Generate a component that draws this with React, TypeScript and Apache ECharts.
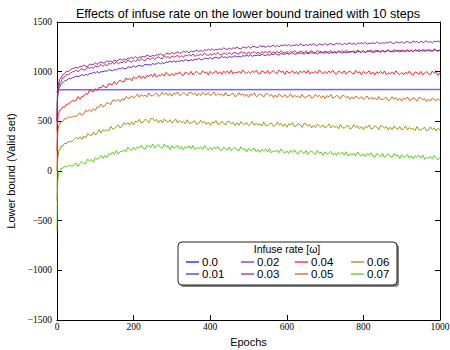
import React, { useEffect, useRef } from "react";
import * as echarts from "echarts";

const epochs = [0, 1, 2, 3, 5, 7, 10, 15, 20, 25, 30, 35, 40, 45,
  50, 55, 60, 65, 70, 75, 80, 85, 90, 95,
  100, 105, 110, 115, 120, 125, 130, 135, 140, 145,
  150, 155, 160, 165, 170, 175, 180, 185, 190, 195,
  200, 205, 210, 215, 220, 225, 230, 235, 240, 245,
  250, 255, 260, 265, 270, 275, 280, 285, 290, 295,
  300, 305, 310, 315, 320, 325, 330, 335, 340, 345,
  350, 355, 360, 365, 370, 375, 380, 385, 390, 395,
  400, 405, 410, 415, 420, 425, 430, 435, 440, 445,
  450, 455, 460, 465, 470, 475, 480, 485, 490, 495,
  500, 505, 510, 515, 520, 525, 530, 535, 540, 545,
  550, 555, 560, 565, 570, 575, 580, 585, 590, 595,
  600, 605, 610, 615, 620, 625, 630, 635, 640, 645,
  650, 655, 660, 665, 670, 675, 680, 685, 690, 695,
  700, 705, 710, 715, 720, 725, 730, 735, 740, 745,
  750, 755, 760, 765, 770, 775, 780, 785, 790, 795,
  800, 805, 810, 815, 820, 825, 830, 835, 840, 845,
  850, 855, 860, 865, 870, 875, 880, 885, 890, 895,
  900, 905, 910, 915, 920, 925, 930, 935, 940, 945,
  950, 955, 960, 965, 970, 975, 980, 985, 990, 995,
  1000];

const flatEpochs = [0, 2, 1000];
const rate00 = [790, 818, 820];

const rate01 = [500, 700, 765, 788, 835, 848, 874, 888, 908, 913, 928, 930, 938, 945,
  956, 950, 958, 970, 959, 973, 965, 983, 980, 993,
  985, 1002, 988, 1000, 999, 1009, 1002, 1021, 1013, 1010,
  1023, 1016, 1031, 1027, 1041, 1031, 1029, 1047, 1045, 1042,
  1058, 1045, 1057, 1065, 1057, 1057, 1075, 1067, 1074, 1063,
  1081, 1074, 1080, 1091, 1078, 1091, 1081, 1098, 1093, 1105,
  1095, 1111, 1096, 1106, 1104, 1113, 1105, 1123, 1113, 1109,
  1121, 1113, 1126, 1121, 1134, 1122, 1119, 1136, 1133, 1128,
  1143, 1128, 1140, 1146, 1137, 1136, 1153, 1143, 1149, 1137,
  1154, 1145, 1150, 1160, 1146, 1157, 1146, 1161, 1156, 1166,
  1155, 1170, 1154, 1164, 1161, 1169, 1160, 1177, 1167, 1162,
  1173, 1164, 1177, 1171, 1183, 1171, 1167, 1183, 1179, 1174,
  1188, 1173, 1183, 1189, 1179, 1177, 1193, 1183, 1188, 1175,
  1191, 1182, 1186, 1195, 1180, 1191, 1179, 1194, 1187, 1197,
  1185, 1200, 1183, 1193, 1189, 1197, 1187, 1204, 1193, 1188,
  1198, 1189, 1201, 1195, 1206, 1194, 1189, 1205, 1200, 1195,
  1208, 1192, 1203, 1208, 1199, 1196, 1212, 1202, 1207, 1194,
  1210, 1200, 1205, 1213, 1199, 1209, 1197, 1212, 1205, 1215,
  1203, 1217, 1201, 1210, 1207, 1214, 1204, 1221, 1210, 1205,
  1215, 1205, 1218, 1211, 1222, 1210, 1205, 1220, 1216, 1210,
  1216];

const rate02 = [500, 760, 815, 865, 895, 925, 935, 970, 980, 1005, 1000, 1020, 1030, 1036,
  1044, 1036, 1054, 1050, 1067, 1055, 1053, 1075, 1073, 1070,
  1090, 1073, 1088, 1097, 1088, 1088, 1110, 1100, 1109, 1095,
  1117, 1108, 1116, 1129, 1114, 1129, 1117, 1137, 1132, 1145,
  1134, 1153, 1134, 1148, 1145, 1156, 1146, 1168, 1157, 1152,
  1166, 1156, 1172, 1167, 1182, 1168, 1164, 1185, 1181, 1176,
  1195, 1177, 1190, 1198, 1188, 1187, 1207, 1196, 1204, 1189,
  1209, 1199, 1206, 1217, 1201, 1215, 1202, 1220, 1214, 1226,
  1214, 1232, 1212, 1225, 1221, 1231, 1220, 1241, 1229, 1223,
  1236, 1226, 1241, 1234, 1248, 1234, 1229, 1248, 1243, 1238,
  1255, 1236, 1249, 1256, 1245, 1243, 1263, 1251, 1258, 1242,
  1262, 1251, 1257, 1268, 1251, 1264, 1250, 1268, 1261, 1272,
  1259, 1276, 1256, 1267, 1263, 1272, 1261, 1280, 1268, 1261,
  1274, 1262, 1277, 1269, 1283, 1267, 1262, 1280, 1275, 1268,
  1285, 1265, 1278, 1284, 1273, 1270, 1290, 1277, 1284, 1267,
  1287, 1275, 1281, 1291, 1274, 1286, 1272, 1289, 1282, 1292,
  1279, 1296, 1276, 1287, 1283, 1292, 1281, 1300, 1288, 1281,
  1294, 1282, 1297, 1289, 1303, 1287, 1282, 1300, 1295, 1288,
  1305, 1285, 1298, 1304, 1293, 1290, 1310, 1297, 1304, 1287,
  1306, 1294, 1300, 1310, 1292, 1305, 1290, 1307, 1300, 1310,
  1298];

const rate03 = [400, 700, 775, 828, 855, 888, 895, 938, 945, 972, 968, 985, 998, 1000,
  1017, 998, 1017, 1030, 1018, 1019, 1047, 1035, 1047, 1031,
  1059, 1048, 1057, 1073, 1053, 1073, 1057, 1083, 1075, 1093,
  1077, 1102, 1078, 1095, 1090, 1104, 1091, 1118, 1103, 1097,
  1115, 1101, 1122, 1114, 1133, 1115, 1109, 1134, 1130, 1122,
  1144, 1122, 1139, 1148, 1134, 1132, 1158, 1143, 1152, 1133,
  1159, 1145, 1153, 1166, 1145, 1162, 1144, 1168, 1158, 1174,
  1156, 1179, 1154, 1169, 1163, 1176, 1162, 1187, 1171, 1163,
  1180, 1165, 1185, 1174, 1192, 1173, 1166, 1190, 1183, 1174,
  1195, 1172, 1187, 1196, 1181, 1177, 1202, 1186, 1195, 1174,
  1199, 1184, 1191, 1203, 1181, 1197, 1179, 1201, 1191, 1205,
  1187, 1209, 1184, 1198, 1191, 1203, 1188, 1212, 1196, 1187,
  1203, 1187, 1206, 1195, 1213, 1193, 1185, 1208, 1201, 1191,
  1211, 1187, 1202, 1210, 1194, 1191, 1215, 1198, 1206, 1185,
  1209, 1194, 1201, 1213, 1190, 1207, 1188, 1210, 1199, 1213,
  1194, 1217, 1191, 1205, 1199, 1210, 1195, 1219, 1203, 1194,
  1210, 1194, 1214, 1203, 1220, 1201, 1193, 1216, 1209, 1200,
  1220, 1196, 1211, 1220, 1204, 1200, 1224, 1208, 1216, 1195,
  1219, 1204, 1211, 1223, 1200, 1217, 1198, 1220, 1209, 1224,
  1205, 1227, 1201, 1216, 1209, 1220, 1205, 1230, 1213, 1204,
  1220];

const rate04 = [200, 450, 515, 560, 585, 612, 615, 645, 642, 672, 675, 690, 708, 705,
  709, 750, 722, 752, 753, 781, 772, 817, 803, 797,
  827, 812, 844, 836, 866, 844, 839, 879, 874, 868,
  903, 872, 899, 915, 898, 897, 937, 918, 934, 908,
  948, 929, 940, 961, 930, 955, 930, 964, 951, 973,
  949, 982, 945, 967, 959, 977, 956, 993, 970, 959,
  982, 961, 988, 974, 999, 971, 961, 995, 985, 973,
  1003, 968, 990, 1002, 980, 975, 1010, 987, 998, 968,
  1003, 981, 991, 1009, 977, 999, 972, 1004, 989, 1008,
  982, 1014, 976, 996, 987, 1004, 982, 1017, 993, 980,
  1002, 980, 1006, 991, 1015, 986, 975, 1008, 997, 984,
  1013, 977, 999, 1010, 988, 982, 1017, 993, 1004, 973,
  1008, 986, 995, 1013, 980, 1002, 975, 1006, 991, 1010,
  984, 1015, 977, 997, 988, 1004, 982, 1017, 993, 980,
  1002, 980, 1006, 990, 1014, 985, 974, 1006, 995, 982,
  1010, 974, 996, 1006, 984, 978, 1013, 988, 999, 968,
  1003, 981, 989, 1007, 974, 996, 968, 999, 984, 1003,
  976, 1007, 969, 989, 979, 995, 973, 1008, 984, 971,
  992, 970, 996, 981, 1005, 976, 965, 998, 987, 974,
  1003, 967, 989, 1000, 978, 972, 1007, 983, 994, 963,
  990];

const rate05 = [0, 300, 385, 415, 465, 470, 495, 500, 528, 525, 545, 540, 546, 552,
  549, 568, 585, 558, 576, 612, 596, 619, 600, 629,
  608, 646, 642, 673, 645, 658, 687, 683, 668, 711,
  715, 701, 721, 695, 727, 710, 748, 735, 731, 758,
  735, 750, 776, 743, 767, 753, 764, 746, 786, 757,
  759, 773, 784, 752, 763, 793, 769, 785, 759, 782,
  753, 784, 773, 797, 762, 768, 790, 779, 757, 793,
  790, 771, 786, 755, 782, 760, 793, 775, 766, 788,
  759, 772, 795, 760, 781, 765, 774, 753, 791, 760,
  759, 772, 782, 749, 759, 788, 763, 778, 751, 773,
  743, 774, 762, 786, 750, 756, 777, 766, 743, 779,
  775, 756, 770, 739, 765, 743, 775, 757, 747, 769,
  740, 753, 777, 741, 763, 747, 756, 735, 773, 742,
  742, 755, 765, 732, 743, 772, 747, 762, 736, 758,
  728, 758, 747, 770, 734, 740, 761, 749, 726, 761,
  757, 738, 752, 720, 747, 724, 756, 738, 728, 749,
  720, 733, 756, 721, 742, 726, 734, 714, 751, 720,
  719, 732, 742, 709, 719, 748, 723, 738, 711, 733,
  703, 734, 722, 746, 710, 716, 737, 726, 703, 739,
  735, 716, 730, 699, 725, 703, 735, 717, 707, 729,
  708];

const rate06 = [-300, 50, 140, 150, 210, 212, 248, 250, 280, 275, 298, 295, 300, 318,
  338, 321, 344, 316, 352, 332, 376, 362, 358, 389,
  362, 384, 417, 383, 414, 402, 418, 402, 450, 422,
  428, 447, 465, 433, 450, 487, 465, 487, 462, 493,
  465, 502, 492, 521, 483, 492, 520, 509, 486, 528,
  528, 504, 520, 485, 514, 487, 524, 503, 492, 516,
  482, 497, 524, 483, 507, 488, 498, 475, 516, 481,
  481, 494, 506, 469, 480, 511, 484, 500, 469, 494,
  460, 494, 482, 508, 468, 474, 500, 486, 461, 500,
  498, 474, 491, 456, 486, 459, 497, 476, 466, 490,
  457, 473, 499, 459, 483, 465, 474, 452, 493, 459,
  458, 472, 484, 447, 458, 490, 462, 479, 448, 474,
  440, 474, 461, 487, 446, 453, 478, 464, 438, 478,
  475, 451, 468, 433, 462, 436, 473, 452, 442, 466,
  432, 448, 474, 434, 458, 440, 449, 427, 468, 434,
  433, 447, 459, 422, 433, 465, 437, 454, 423, 449,
  415, 450, 437, 464, 423, 430, 455, 442, 416, 456,
  453, 430, 446, 412, 441, 415, 452, 432, 421, 446,
  412, 428, 454, 414, 438, 420, 429, 407, 448, 414,
  413, 427, 439, 402, 413, 445, 417, 434, 403, 429,
  410];

const rate07 = [-600, -250, -95, -65, -15, -5, 25, 28, 48, 40, 58, 50, 52, 62,
  80, 46, 77, 96, 76, 75, 121, 100, 118, 89,
  135, 116, 132, 158, 126, 158, 134, 174, 163, 192,
  168, 207, 170, 197, 192, 215, 195, 240, 218, 207,
  238, 214, 246, 231, 260, 230, 220, 259, 248, 236,
  270, 229, 253, 265, 238, 230, 269, 241, 252, 216,
  255, 230, 239, 259, 220, 246, 215, 249, 231, 254,
  223, 257, 214, 236, 225, 243, 217, 257, 229, 213,
  238, 211, 241, 223, 249, 216, 204, 240, 226, 211,
  242, 202, 226, 238, 211, 204, 243, 215, 226, 191,
  230, 204, 213, 232, 193, 218, 187, 220, 202, 224,
  193, 226, 183, 204, 193, 210, 184, 223, 195, 178,
  203, 176, 206, 188, 214, 181, 169, 205, 191, 176,
  207, 167, 191, 203, 176, 169, 208, 180, 191, 156,
  195, 169, 179, 198, 159, 184, 154, 187, 169, 191,
  160, 194, 151, 172, 161, 179, 153, 192, 164, 148,
  173, 146, 176, 158, 184, 151, 139, 175, 161, 146,
  177, 137, 161, 173, 146, 139, 178, 150, 161, 126,
  165, 139, 148, 167, 128, 153, 122, 155, 137, 159,
  128, 161, 118, 139, 128, 145, 119, 158, 130, 113,
  138];

const seriesNames = ["0.0", "0.01", "0.02", "0.03", "0.04", "0.05", "0.06", "0.07"];
const seriesColors = ["#0000ff", "#4b14c8", "#8c1496", "#c3144b", "#ff0a0a", "#cd5a0a", "#8c8c00", "#46c800"];
const seriesValues = [rate00, rate01, rate02, rate03, rate04, rate05, rate06, rate07];

const titleText = "Effects of infuse rate on the lower bound trained with 10 steps";
const legendTitle = "Infuse rate [ω]";

export default function App() {
  const ref = useRef<HTMLDivElement>(null);
  useEffect(() => {
    if (!ref.current) return;
    const chart = echarts.init(ref.current, null, { renderer: "svg" });
    const minus = (v: number) => String(v).replace("-", "\u2212");
    const tickFont = { fontFamily: "Liberation Serif", fontSize: 9.5, color: "#000" };
    const axisBase = {
      axisLine: { show: true, onZero: false, lineStyle: { color: "#000", width: 1 } },
      axisTick: { show: true, inside: true, length: 5, lineStyle: { color: "#000" } },
      splitLine: { show: false },
    };
    const series = seriesNames.map((name, i) => {
      const xs = i === 0 ? flatEpochs : epochs;
      return {
        name,
        type: "line",
        data: xs.map((e, j) => [e, seriesValues[i][j]]),
        showSymbol: false,
        symbol: "none",
        itemStyle: { color: seriesColors[i] },
        lineStyle: { color: i === 0 ? "#6a6aff" : seriesColors[i], width: i === 0 ? 1.5 : 0.9 },
        xAxisIndex: 0,
        yAxisIndex: 0,
      };
    });
    const legendCols = [0, 1, 2, 3].map((c) => ({
      orient: "vertical",
      left: [186, 241, 295, 351][c],
      top: 256,
      data: [seriesNames[c * 2], seriesNames[c * 2 + 1]],
      icon: "rect",
      itemWidth: 13,
      itemHeight: 1.2,
      itemGap: 0,
      padding: 0,
      selectedMode: false,
      textStyle: { fontFamily: "Liberation Sans", fontSize: 11.5, color: "#000", lineHeight: 11, padding: [0, 0, 0, -2] },
    }));
    chart.setOption({
      animation: false,
      backgroundColor: "#fff",
      grid: { left: 57, right: 10, top: 22, bottom: 30, containLabel: false, outerBoundsMode: "none" },
      xAxis: [
        {
          type: "value", min: 0, max: 1000, interval: 200, position: "bottom",
          name: "Epochs", nameLocation: "middle", nameGap: 16,
          nameTextStyle: { fontFamily: "Liberation Sans", fontSize: 11, color: "#000" },
          axisLabel: { ...tickFont, margin: 2, formatter: minus },
          ...axisBase,
        },
        {
          type: "value", min: 0, max: 1000, interval: 200, position: "top",
          axisLabel: { show: false },
          ...axisBase,
        },
      ],
      yAxis: [
        {
          type: "value", min: -1500, max: 1500, interval: 500, position: "left",
          name: "Lower bound (Valid set)", nameLocation: "middle", nameGap: 36, nameRotate: 90,
          nameTextStyle: { fontFamily: "Liberation Sans", fontSize: 11, color: "#000" },
          axisLabel: { ...tickFont, margin: 5, formatter: minus },
          ...axisBase,
        },
        {
          type: "value", min: -1500, max: 1500, interval: 500, position: "right",
          axisLabel: { show: false },
          ...axisBase,
        },
      ],
      legend: legendCols,
      graphic: [
        {
          type: "text", x: 248, y: 14, z: 10,
          style: { text: titleText, fill: "#000", font: "12.6px 'Liberation Sans'", textAlign: "center", textVerticalAlign: "middle" },
        },
        {
          type: "rect", z: 3, shape: { x: 180, y: 244, width: 219, height: 43, r: 4 },
          style: { fill: "#808080", stroke: "none" },
        },
        {
          type: "rect", z: 3, shape: { x: 178, y: 242, width: 219, height: 43, r: 4 },
          style: { fill: "#fff", stroke: "#222", lineWidth: 1 },
        },
        {
          type: "text", x: 287, y: 249, z: 10,
          style: { text: legendTitle, fill: "#000", font: "10.5px 'Liberation Sans'", textAlign: "center", textVerticalAlign: "middle" },
        },
      ],
      series,
    });
    return () => chart.dispose();
  }, []);
  return <div ref={ref} style={{ width: 450, height: 350, position: "absolute", left: 0, top: 0 }} />;
}
